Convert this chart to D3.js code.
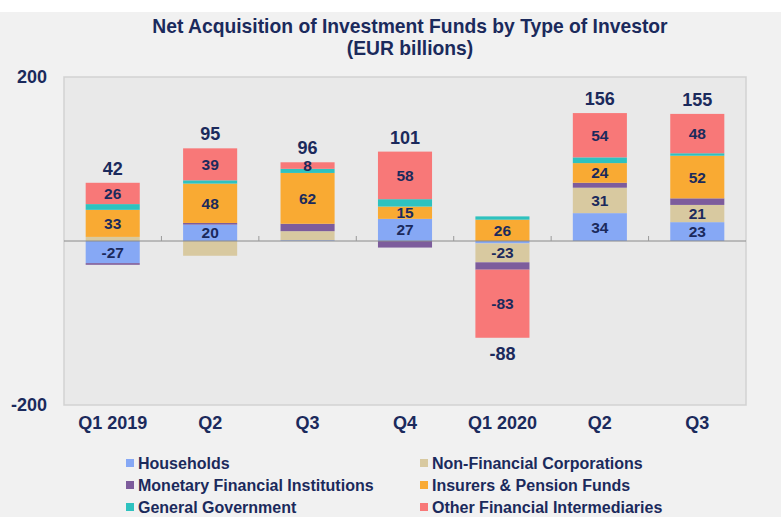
<!doctype html>
<html lang="en">
<head>
  <meta charset="utf-8">
  <title>Net Acquisition of Investment Funds</title>
  <script src="https://cdn.jsdelivr.net/npm/d3@7"></script>
  <style>
    body { margin: 0; background: #fff; }
    text { font-family: Arial, "Liberation Sans", sans-serif; font-weight: bold; fill: #1b2a5c; }
  </style>
</head>
<body>
  <div id="container"></div>
<script>
  // Data (EUR billions)
  const quarters = ['Q1 2019', 'Q2', 'Q3', 'Q4', 'Q1 2020', 'Q2', 'Q3'];
  const households  = [-27, 20, 1, 27, -3, 34, 23];
  const nonFinCorps = [5, -18, 11, 0, -23, 31, 21];
  const mfis        = [-2, 2, 9, -8, -9, 6, 8];
  const insurers    = [33, 48, 62, 15, 26, 24, 52];
  const generalGov  = [7, 4, 5, 9, 4, 7, 3];
  const otherFI     = [26, 39, 8, 58, -83, 54, 48];
  const totals      = [42, 95, 96, 101, -88, 156, 155];
  const yTicks = [-200, 200];

  // which segment values carry a label
  const labelled = {
    households:  [true, true, false, true, false, true, true],
    nonFinCorps: [false, false, false, false, true, true, true],
    mfis:        [false, false, false, false, false, false, false],
    insurers:    [true, true, true, true, true, true, true],
    generalGov:  [false, false, false, false, false, false, false],
    otherFI:     [true, true, true, true, true, true, true]
  };

  const seriesInfo = [
    { key: 'households',  name: 'Households',                    color: '#86a8f5', values: households },
    { key: 'nonFinCorps', name: 'Non-Financial Corporations',    color: '#d8c9a0', values: nonFinCorps },
    { key: 'mfis',        name: 'Monetary Financial Institutions', color: '#7d5c9c', values: mfis },
    { key: 'insurers',    name: 'Insurers & Pension Funds',      color: '#f9aa33', values: insurers },
    { key: 'generalGov',  name: 'General Government',            color: '#2ec2bf', values: generalGov },
    { key: 'otherFI',     name: 'Other Financial Intermediaries', color: '#f87878', values: otherFI }
  ];

  const W = 781, H = 517;
  const plot = { left: 64, top: 77, right: 746, bottom: 405 };

  const svg = d3.select('#container').append('svg')
    .attr('width', W).attr('height', H);

  // page background
  svg.append('rect').attr('x', 0).attr('y', 12).attr('width', W).attr('height', H - 12)
    .attr('fill', '#f1f1f1');

  // title
  svg.append('text').attr('x', 410).attr('y', 33).attr('text-anchor', 'middle')
    .style('font-size', '19.3px').text('Net Acquisition of Investment Funds by Type of Investor');
  svg.append('text').attr('x', 410).attr('y', 55).attr('text-anchor', 'middle')
    .style('font-size', '19.3px').text('(EUR billions)');

  // plot area
  svg.append('rect')
    .attr('x', plot.left).attr('y', plot.top)
    .attr('width', plot.right - plot.left).attr('height', plot.bottom - plot.top)
    .attr('fill', '#e9e9e9').attr('stroke', '#d2d2d2').attr('stroke-width', 1.5);

  const x = d3.scaleBand(d3.range(quarters.length), [plot.left, plot.right])
    .paddingInner(0.445).paddingOuter(0.2225);
  const y = d3.scaleLinear([-200, 200], [plot.bottom, plot.top]);

  // table for stacking
  const table = quarters.map((q, i) => {
    const row = { i };
    seriesInfo.forEach(s => row[s.key] = s.values[i]);
    return row;
  });

  const stack = d3.stack()
    .keys(seriesInfo.map(s => s.key))
    .order(d3.stackOrderNone)
    .offset(d3.stackOffsetDiverging);
  const stacked = stack(table);

  const groups = svg.append('g').selectAll('g')
    .data(stacked).join('g')
    .attr('fill', (d, k) => seriesInfo[k].color);

  groups.selectAll('rect')
    .data(d => d)
    .join('rect')
    .attr('x', d => x(d.data.i))
    .attr('width', x.bandwidth())
    .attr('y', d => y(Math.max(d[0], d[1])))
    .attr('height', d => Math.abs(y(d[0]) - y(d[1])));

  // zero line and small ticks between categories
  svg.append('line')
    .attr('x1', plot.left).attr('x2', plot.right)
    .attr('y1', y(0)).attr('y2', y(0))
    .attr('stroke', '#8a8a8a').attr('stroke-width', 1);
  const step = x.step();
  svg.append('g').selectAll('line')
    .data(d3.range(1, quarters.length))
    .join('line')
    .attr('x1', i => x(i) - step * x.paddingInner() / 2)
    .attr('x2', i => x(i) - step * x.paddingInner() / 2)
    .attr('y1', y(0) - 5).attr('y2', y(0))
    .attr('stroke', '#9a9a9a');

  // segment labels
  stacked.forEach((layer, k) => {
    const key = seriesInfo[k].key;
    svg.append('g').selectAll('text')
      .data(layer.filter((d, i) => labelled[key][i]))
      .join('text')
      .attr('x', d => x(d.data.i) + x.bandwidth() / 2)
      .attr('y', d => y((d[0] + d[1]) / 2) + 5.5)
      .attr('text-anchor', 'middle')
      .style('font-size', '15.5px')
      .text(d => d.data[key]);
  });

  // totals
  svg.append('g').selectAll('text')
    .data(totals.map((t, i) => ({ t, i })))
    .join('text')
    .attr('x', d => x(d.i) + x.bandwidth() / 2)
    .attr('y', d => {
      if (d.t >= 0) {
        const top = d3.max(stacked, l => l[d.i][1]);
        return y(top) - 8;
      }
      const bottom = d3.min(stacked, l => l[d.i][0]);
      return y(bottom) + 22;
    })
    .attr('text-anchor', 'middle')
    .style('font-size', '18px')
    .text(d => d.t);

  // y axis labels
  const yAxis = svg.append('g')
    .attr('transform', `translate(${plot.left},0)`)
    .call(d3.axisLeft(y).tickValues(yTicks).tickFormat(d => String(d)).tickSize(0).tickPadding(17));
  yAxis.select('.domain').remove();
  yAxis.selectAll('text').style('font-size', '18px').style('font-family', null)
    .attr('fill', null);

  // x axis labels
  const xAxis = svg.append('g')
    .attr('transform', `translate(0,${plot.bottom})`)
    .call(d3.axisBottom(x).tickFormat(i => quarters[i]).tickSize(0).tickPadding(11));
  xAxis.select('.domain').remove();
  xAxis.selectAll('text').style('font-size', '18px').style('font-family', null)
    .attr('fill', null);

  // legend
  const legendCols = [126, 420];
  const legendRows = [469, 491, 513];
  const legendOrder = ['households', 'nonFinCorps', 'mfis', 'insurers', 'generalGov', 'otherFI'];
  const legend = svg.append('g').selectAll('g')
    .data(legendOrder.map((k, j) => ({ s: seriesInfo.find(s => s.key === k), j })))
    .join('g')
    .attr('transform', d => `translate(${legendCols[d.j % 2]},${legendRows[Math.floor(d.j / 2)]})`);
  legend.append('rect')
    .attr('x', 0).attr('y', -10).attr('width', 8).attr('height', 8)
    .attr('fill', d => d.s.color);
  legend.append('text')
    .attr('x', 12).attr('y', 0)
    .style('font-size', '16px')
    .text(d => d.s.name);
</script>
</body>
</html>
